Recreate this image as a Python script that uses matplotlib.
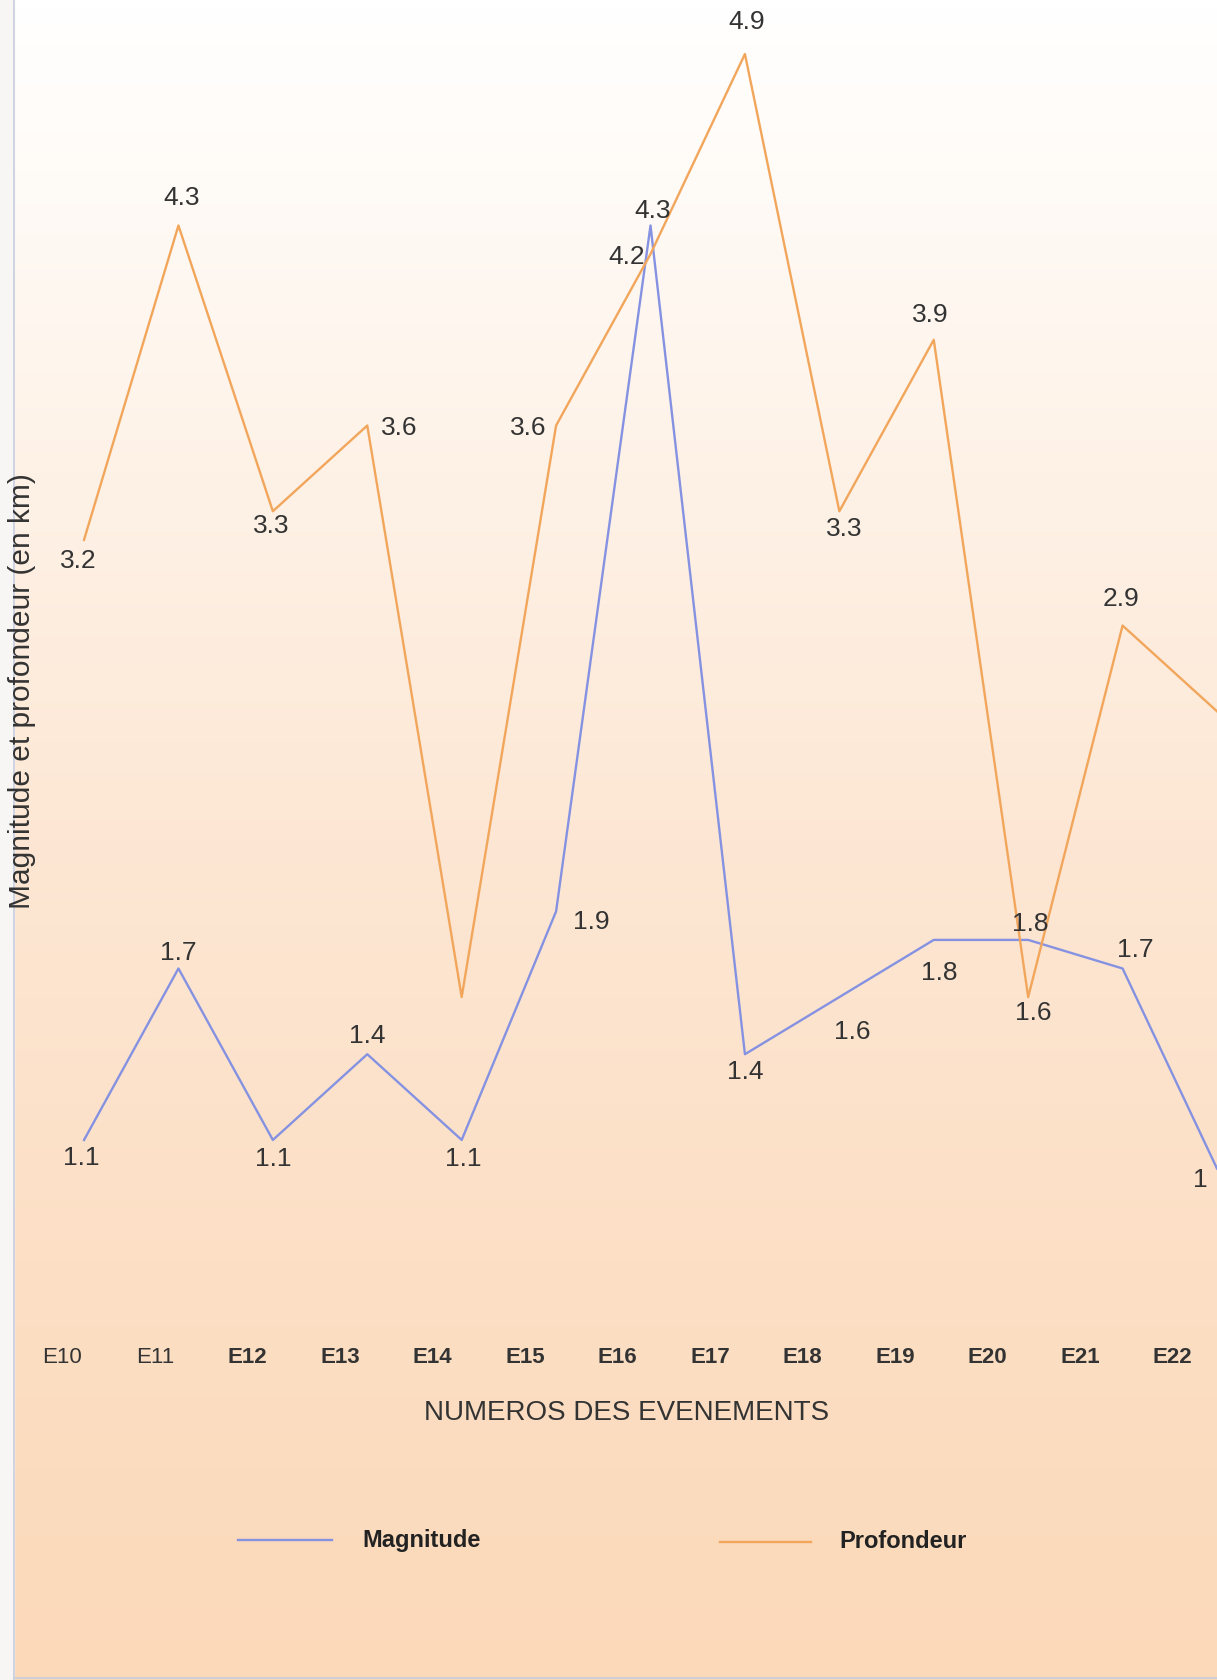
import matplotlib.pyplot as plt
import numpy as np
from matplotlib.colors import LinearSegmentedColormap
from matplotlib.lines import Line2D
from matplotlib.patches import Rectangle

plt.rcParams['font.family'] = ['Liberation Sans', 'DejaVu Sans']

events = ['E10', 'E11', 'E12', 'E13', 'E14', 'E15', 'E16',
          'E17', 'E18', 'E19', 'E20', 'E21', 'E22']
magnitude = [1.1, 1.7, 1.1, 1.4, 1.1, 1.9, 4.3, 1.4, 1.6, 1.8, 1.8, 1.7, 1.0]
profondeur = [3.2, 4.3, 3.3, 3.6, 1.6, 3.6, 4.2, 4.9, 3.3, 3.9, 1.6, 2.9, 2.6]

# label placement (offset in pixels from the point, None = no label)
mag_offsets = [(-3, -18), (0, 15), (0, -19), (0, 18), (2, -19), (35, -11), (2, 14),
               (0, -18), (13, -35), (5, -33), (2, 16), (13, 18), (-17, -11)]
prof_offsets = [(-6, -21), (3, 27), (-2, -15), (32, -2), None, (-28, -2), (-24, -3),
                (2, 32), (5, -18), (-3, 25), (5, -16), (-2, 27), None]

W, H = 1217, 1680
blue = '#8592E2'
orange = '#F2A65C'
txt = '#333333'

fig = plt.figure(figsize=(W / 100, H / 100), dpi=100)

# vertical white -> peach background
bg = fig.add_axes([0, 0, 1, 1], zorder=0)
cmap = LinearSegmentedColormap.from_list(
    'bg', [(0.0, '#FBD9B9'), (0.25, '#FCDFC5'), (0.5, '#FDE7D4'),
           (0.72, '#FEF2E7'), (0.9, '#FFFBF7'), (1.0, '#FFFFFF')])
grad = np.linspace(0, 1, 256).reshape(-1, 1)
bg.imshow(grad, aspect='auto', cmap=cmap, origin='lower', extent=[0, 1, 0, 1])
bg.set_xlim(0, 1)
bg.set_ylim(0, 1)
bg.axis('off')
bg.add_patch(Rectangle((0, 0), 14 / W, 1, color='#F8F6F5', zorder=2))
bg.add_line(Line2D([14 / W, 14 / W], [0, 1], color='#C9CCDD', lw=1.2, zorder=3))
bg.add_line(Line2D([14 / W, 1], [2 / H, 2 / H], color='#CFCFD6', lw=1.5, zorder=3))

ax = fig.add_axes([0, 350 / H, 1, 1330 / H], zorder=1)
ax.patch.set_alpha(0)
x = np.arange(len(events))
ax.plot(x, magnitude, color=blue, lw=1.7)
ax.plot(x, profondeur, color=orange, lw=1.7)
ax.set_xlim(-0.89, 12)
ax.set_ylim(0.435, 5.089)

for xs, vals, offs in ((x, magnitude, mag_offsets), (x, profondeur, prof_offsets)):
    for xi, v, off in zip(xs, vals, offs):
        if off is None:
            continue
        ax.annotate(f'{v:g}', (xi, v), xytext=off, textcoords='offset pixels',
                    ha='center', va='center', fontsize=19, color=txt,
                    annotation_clip=False)

ax.set_xticks(x * 0.98 - 0.23)
ax.set_xticklabels(events, fontsize=16, color=txt)
for i, lab in enumerate(ax.get_xticklabels()):
    lab.set_fontweight('normal' if i < 2 else 'bold')
ax.tick_params(axis='x', length=0, pad=12)
ax.set_yticks([])
for s in ax.spines.values():
    s.set_visible(False)

fig.text(627 / W, 1 - 1413 / H, 'NUMEROS DES EVENEMENTS', ha='center', va='center',
         fontsize=20, color=txt)
fig.text(22 / W, 1 - 691 / H, 'Magnitude et profondeur (en km)', ha='center', va='center',
         rotation=90, fontsize=21.5, color=txt)

# legend
ly = 1 - 1540 / H
fig.add_artist(Line2D([238 / W, 332 / W], [ly, ly], color=blue, lw=1.7))
fig.text(362 / W, ly, 'Magnitude', ha='left', va='center', fontsize=17,
         fontweight='bold', color='#222222')
fig.add_artist(Line2D([720 / W, 811 / W], [ly - 2 / H, ly - 2 / H], color=orange, lw=1.7))
fig.text(839 / W, ly - 2 / H, 'Profondeur', ha='left', va='center', fontsize=17,
         fontweight='bold', color='#222222')

fig.savefig('out.png', dpi=100)
